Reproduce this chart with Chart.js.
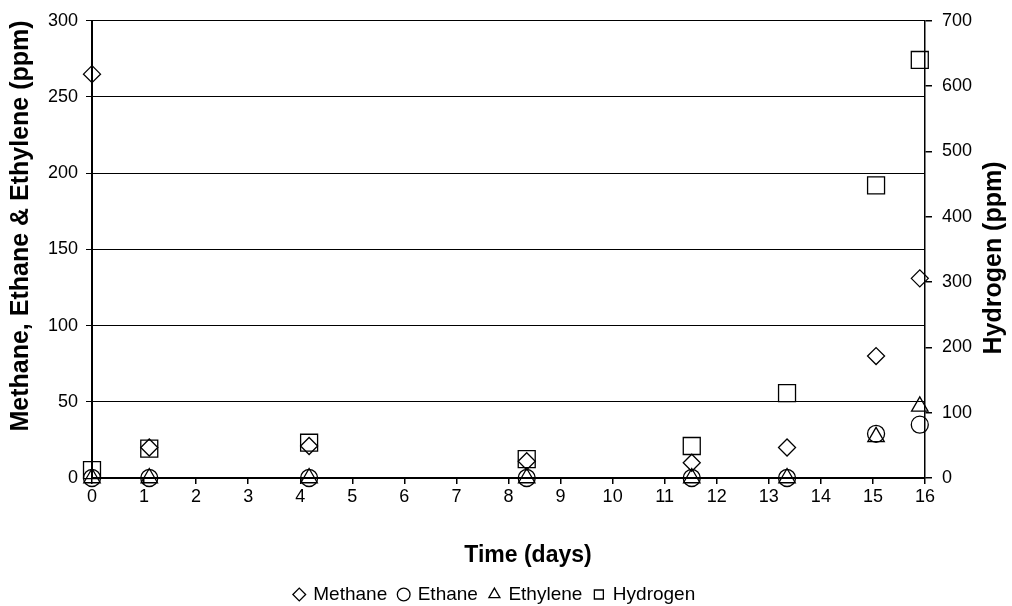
<!DOCTYPE html>
<html>
<head>
<meta charset="utf-8">
<script src="https://cdn.jsdelivr.net/npm/chart.js@4/dist/chart.umd.min.js"></script>
<style>
  html, body { margin: 0; padding: 0; background: #fff; }
  #wrap { width: 1012px; height: 606px; }
</style>
</head>
<body>
<div id="wrap"><canvas id="myChart" width="1012" height="606"></canvas></div>
<script>
// sampling times (days)
const days = [0, 1.1, 4.17, 8.35, 11.52, 13.35, 15.06, 15.9]
// gas concentrations (ppm)
const methane = [265, 20, 21, 11, 10, 20, 80, 131]
const ethane = [0, 0, 0, 0, 0, 0, 29, 35]
const ethylene = [0, 0, 0, 0, 0, 0, 27, 47]
const hydrogen = [12, 45, 54, 29, 49, 130, 448, 640]

const FONT = "Arial, 'Liberation Sans', sans-serif"
const pts = ys => days.map((d, i) => ({ x: d, y: ys[i] }))

const series = (label, ys, style, r, axis) => ({
  label: label,
  data: pts(ys),
  yAxisID: axis,
  showLine: false,
  clip: false,
  pointStyle: style,
  pointRadius: r,
  pointHoverRadius: r,
  pointBorderColor: '#000',
  pointBackgroundColor: 'rgba(0,0,0,0)',
  pointBorderWidth: 1.3,
  borderColor: '#000',
  backgroundColor: 'rgba(0,0,0,0)'
})

// axis titles drawn by hand: the original places them a bit off-centre
// and the right one reads bottom-to-top
const axisTitles = {
  id: 'axisTitles',
  afterLayout: chart => {
    // legend sits a little left of centre in the original
    chart.legend.left -= 11
    chart.legend.right -= 11
  },
  afterDraw: chart => {
    let ctx = chart.ctx
    const put = (text, x, y, rot, size) => {
      ctx.save()
      ctx.translate(x, y)
      ctx.rotate(rot)
      ctx.font = 'bold ' + size + 'px ' + FONT
      ctx.fillStyle = '#000'
      ctx.textAlign = 'center'
      ctx.textBaseline = 'middle'
      ctx.fillText(text, 0, 0)
      ctx.restore()
    }
    put('Methane, Ethane & Ethylene (ppm)', 21, 226, -Math.PI / 2, 25)
    put('Hydrogen (ppm)', 994, 258, -Math.PI / 2, 25)
    put('Time (days)', 528, 556, 0, 23)
  }
}

new Chart('myChart', {
  type: 'scatter',
  plugins: [axisTitles],
  data: {
    datasets: [
      series('Methane', methane, 'rectRot', 8.5, 'y'),
      series('Ethane', ethane, 'circle', 8.5, 'y'),
      series('Ethylene', ethylene, 'triangle', 9.5, 'y'),
      series('Hydrogen', hydrogen, 'rect', 12, 'y2')
    ]
  },
  options: {
    responsive: false,
    animation: false,
    layout: { padding: { top: 18, left: 0, right: 0, bottom: -8 } },
    plugins: {
      tooltip: { enabled: false },
      legend: {
        position: 'bottom',
        labels: {
          usePointStyle: true,
          boxWidth: 9,
          boxHeight: 9,
          padding: 12,
          color: '#000',
          font: { family: FONT, size: 19 }
        }
      }
    },
    scales: {
      x: {
        type: 'linear',
        min: 0,
        max: 16,
        afterFit: s => { s.height = 95 },
        ticks: { stepSize: 1, color: '#000', padding: 2, font: { family: FONT, size: 18 } },
        grid: { drawOnChartArea: false, drawTicks: true, tickLength: 6, color: '#000', lineWidth: 1.5 },
        border: { color: '#000', width: 2 }
      },
      y: {
        position: 'left',
        min: 0,
        max: 300,
        afterFit: s => { s.width = 92 },
        ticks: { stepSize: 50, color: '#000', padding: 8, font: { family: FONT, size: 18 } },
        grid: { color: '#000', lineWidth: 1, tickLength: 6, tickColor: '#000' },
        border: { color: '#000', width: 2 }
      },
      y2: {
        position: 'right',
        min: 0,
        max: 700,
        afterFit: s => { s.width = 87 },
        ticks: { stepSize: 100, color: '#000', padding: 10, font: { family: FONT, size: 18 } },
        grid: { drawOnChartArea: false, tickLength: 7, color: '#000', lineWidth: 1.5 },
        border: { color: '#000', width: 1.5 }
      }
    }
  }
})
</script>
</body>
</html>
